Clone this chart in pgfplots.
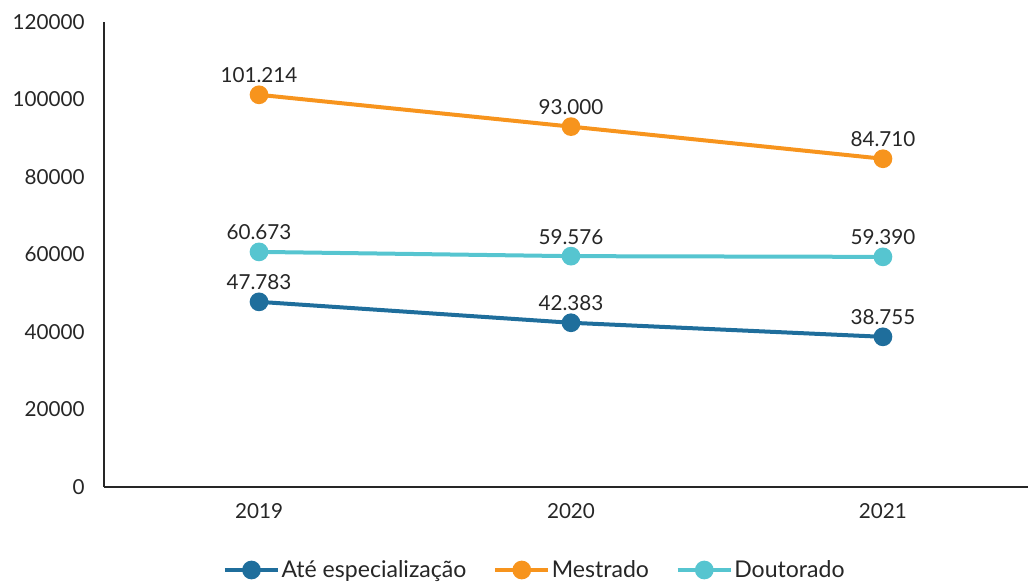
\documentclass[border=0pt]{standalone}
\usepackage{pgfplots}
\pgfplotsset{compat=1.18}
\usepackage{fontspec}
\setmainfont{Lato}
\definecolor{cblue}{HTML}{1F6E9C}
\definecolor{corange}{HTML}{F7941D}
\definecolor{cteal}{HTML}{56C5D0}
\definecolor{ctext}{HTML}{262626}
\begin{document}
\begin{tikzpicture}
\path[use as bounding box] (-78pt,-72pt) rectangle (693pt,365.25pt);
\begin{axis}[
  at={(0,0)}, anchor=south west,
  scale only axis, width=693pt, height=348.75pt,
  xmin=2018.503, xmax=2021.465, ymin=0, ymax=120000,
  axis x line*=bottom, axis y line*=left,
  axis line style={line width=1.2pt, color=ctext, -},
  xtick={2019,2020,2021}, xticklabels={2019,2020,2021},
  ytick={0,20000,...,120000},
  scaled y ticks=false,
  yticklabel style={/pgf/number format/fixed, /pgf/number format/1000 sep={}},
  /pgf/number format/assume math mode=true,
  major tick length=0pt,
  xticklabel style={yshift=-9pt},
  yticklabel style={xshift=-11pt},
  tick label style={font=\fontsize{15.5}{18}\selectfont, color=ctext},
  every node near coord/.style={font=\fontsize{15.5}{18}\selectfont, color=ctext, yshift=4pt},
  nodes near coords, point meta=explicit symbolic,
  clip=false,
  legend columns=3,
  legend style={at={(0.4665,-0.1785)}, anchor=center, draw=none, fill=none,
    font=\fontsize{17.3}{20}\selectfont, text=ctext,
    /tikz/every odd column/.append style={column sep=-1pt},
    /tikz/every even column/.append style={column sep=18pt}},
  legend image code/.code={
    \draw[mark repeat=2,mark phase=2,#1] plot coordinates {(0pt,0pt)(20pt,0pt)(40pt,0pt)};},
]
\addplot[cblue, line width=3pt, mark=*, mark size=5.5pt, mark options={solid}]
  coordinates {(2019,47783) [47.783] (2020,42383) [42.383] (2021,38755) [38.755]};
\addlegendentry{Até especialização}
\addplot[corange, line width=3pt, mark=*, mark size=5.5pt, mark options={solid}]
  coordinates {(2019,101214) [101.214] (2020,93000) [93.000] (2021,84710) [84.710]};
\addlegendentry{Mestrado}
\addplot[cteal, line width=3pt, mark=*, mark size=5.5pt, mark options={solid}]
  coordinates {(2019,60673) [60.673] (2020,59576) [59.576] (2021,59390) [59.390]};
\addlegendentry{Doutorado}
\end{axis}
\end{tikzpicture}
\end{document}
